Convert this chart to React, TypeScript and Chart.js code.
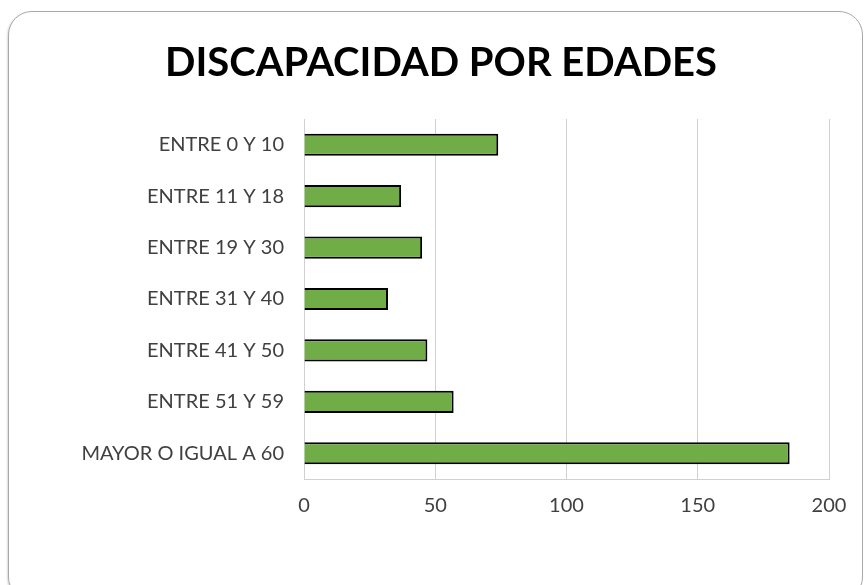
import React, { useEffect, useRef } from "react";
import { Chart, registerables } from "chart.js";

Chart.register(...registerables);

const TITLE = "DISCAPACIDAD POR EDADES";
const CATEGORIES = [
  "ENTRE 0 Y 10",
  "ENTRE 11 Y 18",
  "ENTRE 19 Y 30",
  "ENTRE 31 Y 40",
  "ENTRE 41 Y 50",
  "ENTRE 51 Y 59",
  "MAYOR O IGUAL A 60",
];
const VALUES = [74, 37, 45, 32, 47, 57, 185];
const X_MIN = 0;
const X_MAX = 200;
const X_STEP = 50;

export default function App() {
  const ref = useRef<HTMLCanvasElement | null>(null);

  useEffect(() => {
    if (!ref.current) return;
    const chart = new Chart(ref.current, {
      type: "bar",
      data: {
        labels: CATEGORIES,
        datasets: [
          {
            data: VALUES,
            backgroundColor: "#70AD47",
            borderColor: "#000000",
            borderWidth: 2,
            barPercentage: 0.43,
            categoryPercentage: 1,
          },
        ],
      },
      options: {
        indexAxis: "y",
        animation: false,
        responsive: false,
        maintainAspectRatio: false,
        layout: { padding: { left: 53, right: 36, top: 0, bottom: 0 } },
        plugins: {
          legend: { display: false },
          tooltip: { enabled: false },
          title: {
            display: true,
            text: TITLE,
            color: "#000000",
            font: { family: "Lato", size: 40, weight: "bold", lineHeight: 1.2 },
            padding: { top: 39, bottom: 32 },
          },
        },
        scales: {
          x: {
            min: X_MIN,
            max: X_MAX,
            ticks: {
              stepSize: X_STEP,
              color: "#404040",
              font: { family: "Lato", size: 20 },
              padding: 15,
            },
            grid: { color: "#d0d0d0", drawTicks: false, lineWidth: 1 },
            border: { color: "#d0d0d0" },
            afterFit: (s: any) => {
              s.height = 106;
            },
          },
          y: {
            ticks: {
              color: "#404040",
              font: { family: "Lato", size: 20 },
              padding: 20,
            },
            grid: { display: false, drawTicks: false },
            border: { color: "#d0d0d0" },
            afterFit: (s: any) => {
              s.width = 251;
            },
          },
        },
      },
    });
    return () => chart.destroy();
  }, []);

  return (
    <div>
      <div
        style={{
          position: "fixed",
          left: 8,
          top: 11,
          width: 855,
          height: 590,
          border: "1px solid #a8a8a8",
          borderRadius: 24,
          boxShadow: "-1px 1px 2px rgba(0,0,0,0.15)",
          boxSizing: "border-box",
          background: "#fff",
        }}
      />
      <canvas
        ref={ref}
        width={865}
        height={585}
        style={{ position: "fixed", left: 0, top: 0, width: 865, height: 585 }}
      />
    </div>
  );
}
